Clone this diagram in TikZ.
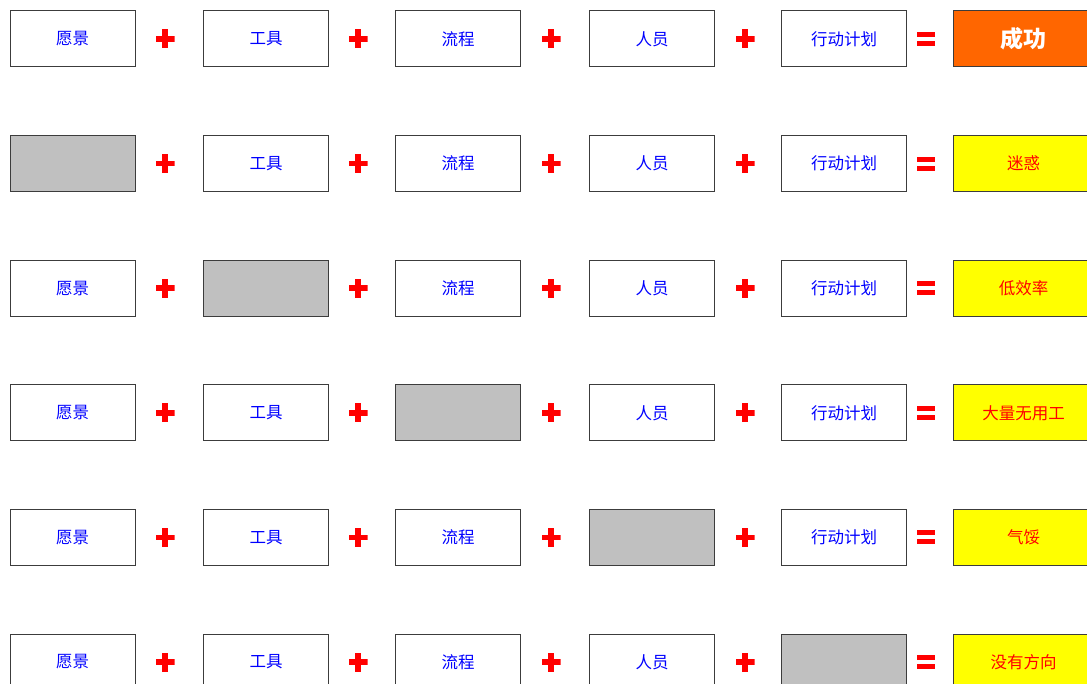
\documentclass[tikz,border=0pt]{standalone}
\usepackage{fontspec}
\setmainfont{Noto Sans CJK SC}
\usetikzlibrary{positioning}

\definecolor{gapgray}{RGB}{192,192,192}
\definecolor{okorange}{RGB}{255,102,0}
\definecolor{badyellow}{RGB}{255,255,0}
\definecolor{edgegray}{RGB}{60,60,60}

\tikzset{
    itembox/.style={draw=edgegray, line width=1pt, fill=white, minimum width=125pt,
        minimum height=56pt, inner sep=0pt, text=blue, font=\fontsize{16.5}{19}\selectfont},
    gapbox/.style={itembox, fill=gapgray},
    resbox/.style={itembox, minimum width=140pt, fill=badyellow, text=red},
    okbox/.style={resbox, fill=okorange, text=white, font=\fontsize{23}{26}\selectfont\bfseries},
    plussign/.style={minimum size=19pt, inner sep=0pt,
        path picture={
            \fill[red] ([xshift=-9.5pt,yshift=-2.8pt]path picture bounding box.center) rectangle ++(19pt,5.6pt);
            \fill[red] ([xshift=-2.8pt,yshift=-9.5pt]path picture bounding box.center) rectangle ++(5.6pt,19pt);
        }},
    eqsign/.style={minimum width=18pt, minimum height=14pt, inner sep=0pt,
        path picture={
            \fill[red] ([xshift=-9pt,yshift=2pt]path picture bounding box.center) rectangle ++(18pt,5pt);
            \fill[red] ([xshift=-9pt,yshift=-7pt]path picture bounding box.center) rectangle ++(18pt,5pt);
        }}
}

\begin{document}
\begin{tikzpicture}[x=1pt, y=-1pt]
    \clip (0,0) rectangle (1087,684);
    \fill[white] (0,0) rectangle (1087,684);

    % one row per missing item, row 1 has nothing missing
    \foreach \row/\miss/\res in {1/0/成功, 2/1/迷惑, 3/2/低效率, 4/3/大量无用工, 5/4/气馁, 6/5/没有方向} {
        \pgfmathsetmacro{\ypos}{39+(\row-1)*124.6}
        \foreach \col/\xpos/\lab in {1/72.5/愿景, 2/266/工具, 3/458/流程, 4/652/人员, 5/844/行动计划} {
            \ifnum\col=\miss
                \node[gapbox] (b\row-\col) at (\xpos,\ypos) {};
            \else
                \node[itembox] (b\row-\col) at (\xpos,\ypos) {\lab};
            \fi
        }
        \foreach \col/\xpos in {1/165, 2/358, 3/551, 4/745}
            \node[plussign] (p\row-\col) at (\xpos,\ypos) {};
        \node[eqsign] (e\row) at (926,\ypos) {};
        \ifnum\row=1
            \node[okbox, anchor=west] (r\row) at (953,\ypos) {\res};
        \else
            \node[resbox, anchor=west] (r\row) at (953,\ypos) {\res};
        \fi
    }
\end{tikzpicture}
\end{document}
